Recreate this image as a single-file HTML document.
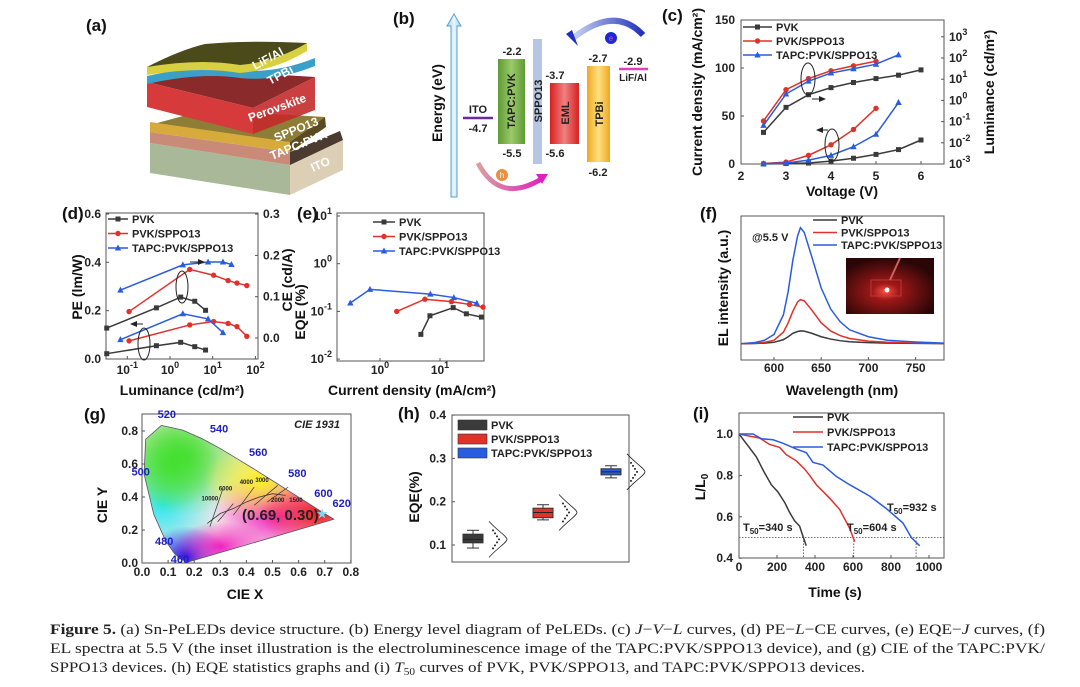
<!DOCTYPE html>
<html><head><meta charset="utf-8"><style>
html,body{margin:0;padding:0;background:#fff;width:1080px;height:687px;overflow:hidden}
svg{display:block;font-family:"Liberation Sans",Arial,sans-serif}
.t{font-weight:bold;font-size:12px;fill:#222}
.ax{font-weight:bold;font-size:14px;fill:#111}
.lg{font-weight:bold;font-size:11px;fill:#222}
.pl{font-weight:bold;font-size:17px;fill:#111}
.fr{fill:none;stroke:#555;stroke-width:1}
</style></head><body>
<svg id="fig" width="1080" height="687" viewBox="0 0 1080 687">
<defs>
<linearGradient id="gTapc" x1="0" x2="1"><stop offset="0" stop-color="#5f9a35"/><stop offset=".5" stop-color="#9acb68"/><stop offset="1" stop-color="#5f9a35"/></linearGradient>
<linearGradient id="gEml" x1="0" x2="1"><stop offset="0" stop-color="#d82020"/><stop offset=".5" stop-color="#f08080"/><stop offset="1" stop-color="#d82020"/></linearGradient>
<linearGradient id="gTpbi" x1="0" x2="1"><stop offset="0" stop-color="#f0a820"/><stop offset=".5" stop-color="#fde080"/><stop offset="1" stop-color="#f0a820"/></linearGradient>
<linearGradient id="gArr" x1="0" x2="1"><stop offset="0" stop-color="#9fd3ee"/><stop offset=".5" stop-color="#e8f6fd"/><stop offset="1" stop-color="#9fd3ee"/></linearGradient>
<linearGradient id="gE" x1="1" x2="0"><stop offset="0" stop-color="#2030c0"/><stop offset="1" stop-color="#c8d4f0"/></linearGradient>
<linearGradient id="gH" x1="0" x2="1"><stop offset="0" stop-color="#d9a0a0"/><stop offset="1" stop-color="#e020c0"/></linearGradient>
<radialGradient id="rg1" cx=".5" cy=".5" r=".5"><stop offset="0" stop-color="#44e030"/><stop offset="1" stop-color="#44e030" stop-opacity="0"/></radialGradient>
<radialGradient id="rg2" cx=".5" cy=".5" r=".5"><stop offset="0" stop-color="#30e8f0"/><stop offset="1" stop-color="#30e8f0" stop-opacity="0"/></radialGradient>
<radialGradient id="rg3" cx=".5" cy=".5" r=".5"><stop offset="0" stop-color="#2010e0"/><stop offset="1" stop-color="#2010e0" stop-opacity="0"/></radialGradient>
<radialGradient id="rg4" cx=".5" cy=".5" r=".5"><stop offset="0" stop-color="#f01818"/><stop offset="1" stop-color="#f01818" stop-opacity="0"/></radialGradient>
<radialGradient id="rg5" cx=".5" cy=".5" r=".5"><stop offset="0" stop-color="#f8f020"/><stop offset="1" stop-color="#f8f020" stop-opacity="0"/></radialGradient>
<radialGradient id="rg6" cx=".5" cy=".5" r=".5"><stop offset="0" stop-color="#f020c0"/><stop offset="1" stop-color="#f020c0" stop-opacity="0"/></radialGradient>
<radialGradient id="photo" cx=".45" cy=".6" r=".6"><stop offset="0" stop-color="#ff5040"/><stop offset=".25" stop-color="#a01818"/><stop offset="1" stop-color="#2a0606"/></radialGradient>
<clipPath id="cieClip"><polygon id="cieClipPoly" points=""/></clipPath>
</defs>

<!-- (a) device structure -->
<g>
<text class="pl" x="86" y="31">(a)</text>
<polygon points="150,143 290,165 290,195 150,173" fill="#a9b898"/>
<polygon points="290,165 343,140 343,170 290,195" fill="#dccfb5"/>
<polygon points="150,132 290,152 290,165 150,143" fill="#c98a78"/>
<polygon points="290,152 340,131 343,140 290,165" fill="#4a3a30"/>
<polygon points="150,125 205,110 325,117 290,142 150,132" fill="#8d7d36"/>
<polygon points="150,122 290,142 290,152 150,132" fill="#d7aa3c"/>
<polygon points="290,142 325,117 326,127 290,152" fill="#5a4a20"/>
<polygon points="147,82 200,70 315,77 253,108" fill="#8a2a2a"/>
<polygon points="147,82 253,108 253,134 147,107" fill="#d73a3a"/>
<polygon points="253,108 315,77 315,110 253,134" fill="#c42a2a" opacity=".9"/>
<path d="M147,76 Q200,64 240,70 Q275,74 315,58 L315,66 Q275,82 240,78 Q200,72 147,84Z" fill="#3aa0c8"/>
<path d="M147,67 Q180,50 205,44 Q250,40 307,43 L307,50 Q275,64 240,68 Q200,62 147,74Z" fill="#4a4a1a"/>
<path d="M147,67 Q200,58 240,65 Q275,62 307,43 L307,51 Q275,70 240,73 Q200,66 147,75Z" fill="#d8d040"/>
<g fill="#fff" font-weight="bold" font-size="12">
<text transform="translate(255,70) rotate(-28)">LiF/Al</text>
<text transform="translate(270,85) rotate(-28)">TPBi</text>
<text transform="translate(250,122) rotate(-20)">Perovskite</text>
<text transform="translate(276,142) rotate(-22)">SPPO13</text>
<text transform="translate(272,160) rotate(-22)">TAPC:PVK</text>
<text transform="translate(313,172) rotate(-24)">ITO</text>
</g>
</g>

<!-- (b) energy diagram -->
<g>
<text class="pl" x="393" y="24">(b)</text>
<polygon points="451,197 451,26 447,26 454,14 461,26 457,26 457,197" fill="url(#gArr)" stroke="#5aa0c8" stroke-width="1"/>
<text class="ax" transform="translate(442,103) rotate(-90)" text-anchor="middle">Energy (eV)</text>
<line x1="463" y1="118" x2="493" y2="118" stroke="#6a2aa0" stroke-width="2.5"/>
<g font-weight="bold" font-size="11" fill="#222" text-anchor="middle">
<text x="478" y="113">ITO</text><text x="478" y="132">-4.7</text>
<text x="512" y="55">-2.2</text><text x="512" y="157">-5.5</text>
<text x="555" y="79">-3.7</text><text x="555" y="157">-5.6</text>
<text x="598" y="62">-2.7</text><text x="598" y="176">-6.2</text>
<text x="633" y="65">-2.9</text><text x="633" y="81" font-size="10">LiF/Al</text>
</g>
<rect x="498" y="59" width="27" height="85" fill="url(#gTapc)"/>
<rect x="533" y="39" width="9" height="125" fill="#b8c6e6"/>
<rect x="550" y="83" width="29" height="61" fill="url(#gEml)"/>
<rect x="587" y="66" width="23" height="96" fill="url(#gTpbi)"/>
<line x1="619" y1="69" x2="648" y2="69" stroke="#e040c0" stroke-width="2.5"/>
<g font-weight="bold" font-size="11" fill="#222">
<text transform="translate(515,101) rotate(-90)" text-anchor="middle">TAPC:PVK</text>
<text transform="translate(542,101) rotate(-90)" text-anchor="middle">SPPO13</text>
<text transform="translate(569,113) rotate(-90)" text-anchor="middle">EML</text>
<text transform="translate(603,114) rotate(-90)" text-anchor="middle">TPBi</text>
</g>
<path d="M643,35 Q615,5 573,38" fill="none" stroke="url(#gE)" stroke-width="6"/>
<polygon points="566,34 578,46 572,30" fill="#2030c0"/>
<circle cx="611" cy="38" r="6" fill="#1a2ad0"/><text x="611" y="41" font-size="8" fill="#e040e0" text-anchor="middle">e</text>
<path d="M478,163 Q500,205 543,178" fill="none" stroke="url(#gH)" stroke-width="5"/>
<polygon points="548,174 536,174 542,184" fill="#e020c0"/>
<circle cx="502" cy="175" r="6" fill="#e89040"/><text x="502" y="178" font-size="8" fill="#fff" text-anchor="middle">h</text>
</g>

<g>
<text class="pl" x="662" y="21">(c)</text>
<text class="pl" x="62" y="219">(d)</text>
<text class="pl" x="297" y="219">(e)</text>
<text class="pl" x="700" y="219">(f)</text>
<text class="pl" x="84" y="420">(g)</text>
<text class="pl" x="398" y="419">(h)</text>
<text class="pl" x="693" y="419">(i)</text>
</g>
<g>
<text class="ax" transform="translate(702,92) rotate(-90)" text-anchor="middle">Current density (mA/cm²)</text>
<text class="ax" transform="translate(994,92) rotate(-90)" text-anchor="middle">Luminance (cd/m²)</text>
<text class="ax" x="842" y="196" text-anchor="middle">Voltage (V)</text>
<text class="ax" transform="translate(82,287) rotate(-90)" text-anchor="middle">PE (lm/W)</text>
<text class="ax" transform="translate(292,280) rotate(-90)" text-anchor="middle">CE (cd/A)</text>
<text class="ax" transform="translate(305,312) rotate(-90)" text-anchor="middle">EQE (%)</text>
<text class="ax" x="182" y="395" text-anchor="middle">Luminance (cd/m²)</text>
<text class="ax" x="412" y="395" text-anchor="middle">Current density (mA/cm²)</text>
<text class="ax" transform="translate(728,288) rotate(-90)" text-anchor="middle">EL intensity (a.u.)</text>
<text class="ax" x="842" y="395" text-anchor="middle" font-size="15">Wavelength (nm)</text>
<text class="ax" transform="translate(107,505) rotate(-90)" text-anchor="middle">CIE Y</text>
<text class="ax" x="245" y="599" text-anchor="middle">CIE X</text>
<text class="ax" transform="translate(419,497) rotate(-90)" text-anchor="middle">EQE(%)</text>
<text class="ax" transform="translate(705,487) rotate(-90)" text-anchor="middle">L/L<tspan font-size="10" dy="3">0</tspan></text>
<text class="ax" x="835" y="597" text-anchor="middle">Time (s)</text>
</g>

<g id="charts"></g>

<g font-family="Liberation Serif,serif" font-size="15" fill="#222">
<text x="50" y="634" textLength="995" lengthAdjust="spacingAndGlyphs"><tspan font-weight="bold">Figure 5.</tspan> (a) Sn-PeLEDs device structure. (b) Energy level diagram of PeLEDs. (c) <tspan font-style="italic">J</tspan>−<tspan font-style="italic">V</tspan>−<tspan font-style="italic">L</tspan> curves, (d) PE−<tspan font-style="italic">L</tspan>−CE curves, (e) EQE−<tspan font-style="italic">J</tspan> curves, (f)</text>
<text x="50" y="653" textLength="995" lengthAdjust="spacingAndGlyphs">EL spectra at 5.5 V (the inset illustration is the electroluminescence image of the TAPC:PVK/SPPO13 device), and (g) CIE of the TAPC:PVK/</text>
<text x="50" y="672" textLength="815" lengthAdjust="spacingAndGlyphs">SPPO13 devices. (h) EQE statistics graphs and (i) <tspan font-style="italic">T</tspan><tspan font-size="10" dy="3">50</tspan><tspan dy="-3"> curves of PVK, PVK/SPPO13, and TAPC:PVK/SPPO13 devices.</tspan></text>
</g>
</svg>
<script>
// ---------- data (c) ----------
const cVolt=[2.5,3,3.5,4,4.5,5,5.5,6];
const cJ_PVK=[0,0.5,1,3,6,10,15,25];
const cJ_SPPO=[0.5,2,9,20,36,58];
const cJ_TAPC=[0.3,1,4,9,18,31,64];
const cL_PVK=[0.031,0.47,1.86,4,7,10.7,15.5,27.5];
const cL_SPPO=[0.107,3.2,10.7,25,43,71];
const cL_TAPC=[0.066,2.0,8.1,19.5,31,51,141];
const cXTicks=[2,3,4,5,6];
const cYTicks=[0,50,100,150];
const cRTicks=[-3,-2,-1,0,1,2,3];
// ---------- data (d) ----------
const dL_PVK=[0.033,0.48,1.78,3.8,6.8];
const dPE_PVK=[0.022,0.055,0.069,0.051,0.037];
const dCE_PVK=[0.024,0.073,0.099,0.089,0.067];
const dL_SPPO=[0.11,2.9,10.5,22.9,37,63];
const dPE_SPPO=[0.075,0.141,0.155,0.147,0.134,0.094];
const dCE_SPPO=[0.064,0.166,0.152,0.139,0.133,0.127];
const dL_TAPC_PE=[0.069,2.0,7.8,17.4];
const dPE_TAPC=[0.080,0.187,0.166,0.109];
const dL_TAPC_CE=[0.069,2.0,7.8,17.4,27.5];
const dCE_TAPC=[0.116,0.177,0.184,0.184,0.178];
const dXTicks=[-1,0,1,2];
const dYTicks=[0,0.2,0.4,0.6];
const dRTicks=[0,0.1,0.2,0.3];
// ---------- data (e) ----------
const eJ_PVK=[4.8,6.8,16.6,27.5,49];
const eEQE_PVK=[0.033,0.081,0.12,0.089,0.076];
const eJ_SPPO=[1.9,5.6,15.5,31,52];
const eEQE_SPPO=[0.10,0.18,0.16,0.14,0.123];
const eJ_TAPC=[0.32,0.68,6.9,17,41];
const eEQE_TAPC=[0.15,0.29,0.23,0.195,0.148];
const eXTicks=[0,1];
const eYTicks=[-2,-1,0,1];
// ---------- data (f) ----------
const fWave=[565,580,590,600,610,615,620,625,628,632,640,650,660,670,680,700,720,750,780];
const fI_TAPC=[0,0.01,0.03,0.08,0.25,0.45,0.72,0.93,1.0,0.96,0.75,0.48,0.30,0.19,0.12,0.06,0.03,0.015,0.005];
const fI_SPPO=[0,0.004,0.012,0.03,0.1,0.18,0.28,0.36,0.38,0.37,0.29,0.18,0.11,0.07,0.045,0.022,0.012,0.006,0.002];
const fI_PVK=[0,0.002,0.005,0.012,0.035,0.06,0.09,0.105,0.11,0.108,0.09,0.06,0.04,0.026,0.017,0.009,0.005,0.003,0.001];
const fXTicks=[600,650,700,750];
// ---------- data (g) ----------
const gLocusX=[0.174,0.144,0.124,0.091,0.045,0.008,0.014,0.074,0.155,0.230,0.302,0.373,0.444,0.512,0.575,0.627,0.691,0.719,0.735];
const gLocusY=[0.005,0.030,0.058,0.133,0.295,0.538,0.750,0.834,0.806,0.754,0.692,0.624,0.555,0.487,0.424,0.372,0.308,0.281,0.265];
const gPoint=[0.69,0.30];
const gTicks=[0,0.1,0.2,0.3,0.4,0.5,0.6,0.7,0.8];
const gYTicks=[0,0.2,0.4,0.6,0.8];
const gWaveLabels=["520","540","560","580","600","620","500","480","460"];
const gWaveX=[0.06,0.26,0.41,0.56,0.66,0.73,-0.04,0.05,0.11];
const gWaveY=[0.88,0.79,0.65,0.52,0.40,0.34,0.53,0.11,0.00];
// ---------- data (h) ----------
const hCats=["PVK","PVK/SPPO13","TAPC:PVK/SPPO13"];
const hMin=[0.093,0.158,0.255];
const hQ1=[0.105,0.163,0.262];
const hMed=[0.113,0.175,0.269];
const hQ3=[0.125,0.185,0.276];
const hMax=[0.134,0.193,0.283];
const hYTicks=[0.1,0.2,0.3,0.4];
// ---------- data (i) ----------
const iT_PVK=[0,50,91,130,170,205,240,267,293,319,337,354];
const iL_PVK=[1.0,0.94,0.89,0.82,0.755,0.72,0.67,0.62,0.58,0.555,0.505,0.46];
const iT_SPPO=[0,109,160,214,249,302,346,372,407,477,530,582,609];
const iL_SPPO=[1,0.98,0.95,0.935,0.90,0.87,0.83,0.80,0.755,0.69,0.635,0.545,0.48];
const iT_TAPC=[0,74,118,179,232,302,354,389,442,512,582,688,775,863,907,951];
const iL_TAPC=[1,1,0.977,0.972,0.955,0.927,0.91,0.863,0.85,0.795,0.755,0.70,0.64,0.57,0.50,0.46];
const iT50=[340,604,932];
const iXTicks=[0,200,400,600,800,1000];
const iYTicks=[0.4,0.6,0.8,1.0];

const NS="http://www.w3.org/2000/svg";
const root=document.getElementById('charts');
const K="#3a3a3a",R="#e0312a",B="#2a5ce0";
const lg=Math.log10;
function el(tag,attrs,parent){const e=document.createElementNS(NS,tag);for(const k in attrs)e.setAttribute(k,attrs[k]);(parent||root).appendChild(e);return e;}
function grp(name){const g=el('g',{});return g;}
function txt(p,x,y,s,cls,anchor){const t=el('text',{x:x,y:y,class:cls||'t','text-anchor':anchor||'middle'},p);t.textContent=s;return t;}
function powLabel(p,x,y,e,anchor){const t=el('text',{x:x,y:y,class:'t','text-anchor':anchor||'middle'},p);t.textContent='10';const s=el('tspan',{dy:-6,'font-size':9},t);s.textContent=String(e);return t;}
function series(p,xs,ys,fx,fy,color,marker,name){
  const g=el('g',{},p);
  el('polyline',{points:xs.map((x,i)=>fx(x)+','+fy(ys[i])).join(' '),fill:'none',stroke:color,'stroke-width':1.5},g);
  if(marker) xs.forEach((x,i)=>mark(g,fx(x),fy(ys[i]),color,marker));
  return g;
}
function mark(g,x,y,c,m){
  if(m==='s')el('rect',{x:x-2.5,y:y-2.5,width:5,height:5,fill:c},g);
  else if(m==='c')el('circle',{cx:x,cy:y,r:2.7,fill:c},g);
  else el('polygon',{points:`${x},${y-3.5} ${x-3.2},${y+2.5} ${x+3.2},${y+2.5}`,fill:c},g);
}
function legend(p,x,y,dy,items,len,marks){
  items.forEach((it,i)=>{const g=el('g',{},p);
    el('line',{x1:x,y1:y+i*dy,x2:x+len,y2:y+i*dy,stroke:it[1],'stroke-width':1.5},g);
    if(marks)mark(g,x+len/2,y+i*dy,it[1],it[2]);
    txt(g,x+len+4,y+i*dy+4,it[0],'lg','start');});
}
function frame(p,x1,y1,x2,y2){el('rect',{x:x1,y:y1,width:x2-x1,height:y2-y1,class:'fr'},p);}
function tickX(p,x,y){el('line',{x1:x,y1:y,x2:x,y2:y-3,stroke:'#555'},p);}
function tickY(p,x,y,d){el('line',{x1:x,y1:y,x2:x+d,y2:y,stroke:'#555'},p);}
const LEG=[["PVK",K,'s'],["PVK/SPPO13",R,'c'],["TAPC:PVK/SPPO13",B,'t']];

// ---------- panel c ----------
(function(){
 const g=grp('panel-c-jvl-chart');
 const X=v=>741+(v-2)*45, YJ=j=>164-j*0.96, YL=l=>164-(lg(l)+3)*21.2;
 frame(g,741,20,944,164);
 cXTicks.forEach(v=>{tickX(g,X(v),164);txt(g,X(v),180,String(v));});
 cYTicks.forEach(v=>{tickY(g,741,YJ(v),3);txt(g,735,YJ(v)+4,String(v),'t','end');});
 cRTicks.forEach(e=>{tickY(g,944,164-(e+3)*21.2,-3);powLabel(g,949,164-(e+3)*21.2+4,e,'start');});
 series(g,cVolt,cJ_PVK,X,YJ,K,'s','j-pvk');
 series(g,cVolt.slice(0,cJ_SPPO.length),cJ_SPPO,X,YJ,R,'c','j-pvk-sppo13');
 series(g,cVolt.slice(0,cJ_TAPC.length),cJ_TAPC,X,YJ,B,'t','j-tapc');
 series(g,cVolt,cL_PVK,X,YL,K,'s','l-pvk');
 series(g,cVolt.slice(0,cL_SPPO.length),cL_SPPO,X,YL,R,'c','l-pvk-sppo13');
 series(g,cVolt.slice(0,cL_TAPC.length),cL_TAPC,X,YL,B,'t','l-tapc');
 el('ellipse',{cx:808,cy:79,rx:7,ry:16,fill:'none',stroke:'#222'},g);
 el('line',{x1:812,y1:99,x2:822,y2:99,stroke:'#222'},g);el('polygon',{points:'826,99 819,96 819,102',fill:'#222'},g);
 el('ellipse',{cx:832,cy:145,rx:7,ry:16,fill:'none',stroke:'#222'},g);
 el('line',{x1:820,y1:130,x2:828,y2:130,stroke:'#222'},g);el('polygon',{points:'816,130 823,127 823,133',fill:'#222'},g);
 legend(g,743,27,14,LEG,29,true);
})();

// ---------- panel d ----------
(function(){
 const g=grp('panel-d-pe-l-ce-chart');
 const X=l=>170+lg(l)*42.7, YP=p=>359-p/0.6*145, YC=c=>338-c*413;
 frame(g,106,213,258,359);
 dXTicks.forEach(e=>{tickX(g,170+e*42.7,359);powLabel(g,170+e*42.7,374,e);});
 dYTicks.forEach(v=>{tickY(g,106,YP(v),3);txt(g,101,YP(v)+4,v.toFixed(1),'t','end');});
 dRTicks.forEach(v=>{tickY(g,258,YC(v),-3);txt(g,263,YC(v)+4,v.toFixed(1),'t','start');});
 series(g,dL_PVK,dPE_PVK,X,YP,K,'s','pe-pvk');
 series(g,dL_SPPO,dPE_SPPO,X,YP,R,'c','pe-pvk-sppo13');
 series(g,dL_TAPC_PE,dPE_TAPC,X,YP,B,'t','pe-tapc');
 series(g,dL_PVK,dCE_PVK,X,YC,K,'s','ce-pvk');
 series(g,dL_SPPO,dCE_SPPO,X,YC,R,'c','ce-pvk-sppo13');
 series(g,dL_TAPC_CE,dCE_TAPC,X,YC,B,'t','ce-tapc');
 el('ellipse',{cx:182,cy:287,rx:6,ry:16,fill:'none',stroke:'#222'},g);
 el('line',{x1:190,y1:262,x2:201,y2:262,stroke:'#222'},g);el('polygon',{points:'205,262 198,259 198,265',fill:'#222'},g);
 el('ellipse',{cx:144,cy:344,rx:6,ry:16,fill:'none',stroke:'#222'},g);
 el('line',{x1:134,y1:324,x2:143,y2:324,stroke:'#222'},g);el('polygon',{points:'130,324 137,321 137,327',fill:'#222'},g);
 legend(g,108,219,14.5,LEG,20,true);
})();

// ---------- panel e ----------
(function(){
 const g=grp('panel-e-eqe-j-chart');
 const X=j=>380+lg(j)*60, Y=e=>216+(1-lg(e))*47.7;
 frame(g,337,213,484,361);
 eXTicks.forEach(e=>{tickX(g,380+e*60,361);powLabel(g,380+e*60,374,e);});
 eYTicks.forEach(e=>{const y=216+(1-e)*47.7;tickY(g,337,y,3);powLabel(g,332,y+4,e,'end');});
 series(g,eJ_PVK,eEQE_PVK,X,Y,K,'s','eqe-pvk');
 series(g,eJ_SPPO,eEQE_SPPO,X,Y,R,'c','eqe-pvk-sppo13');
 series(g,eJ_TAPC,eEQE_TAPC,X,Y,B,'t','eqe-tapc');
 legend(g,373,222,14.5,LEG,22,true);
})();

// ---------- panel f ----------
(function(){
 const g=grp('panel-f-el-spectra-chart');
 const X=w=>774+(w-600)*0.944, Y=i=>343.7-i*116;
 frame(g,741,216,944,360);
 fXTicks.forEach(v=>{tickX(g,X(v),360);txt(g,X(v),372,String(v));});
 series(g,fWave,fI_PVK,X,Y,K,null,'el-pvk');
 series(g,fWave,fI_SPPO,X,Y,R,null,'el-pvk-sppo13');
 series(g,fWave,fI_TAPC,X,Y,B,null,'el-tapc');
 legend(g,813,220,12.5,LEG,24,false);
 txt(g,752,241,'@5.5 V','lg','start');
 const ph=grp('inset-photo');el('rect',{x:846,y:258,width:88,height:56,fill:'url(#photo)'},ph);
 el('circle',{cx:887,cy:290,r:2.5,fill:'#fff'},ph);
 el('rect',{x:871,y:280,width:30,height:16,fill:'none',stroke:'#c84040','stroke-width':.8},ph);
 el('line',{x1:900,y1:258,x2:890,y2:280,stroke:'#d06060','stroke-width':2},ph);
})();

// ---------- panel g ----------
(function(){
 const g=grp('panel-g-cie-chart');
 const X=x=>142+x*261, Y=y=>563-y*165;
 const pts=gLocusX.map((x,i)=>X(x)+','+Y(gLocusY[i])).join(' ');
 document.getElementById('cieClipPoly').setAttribute('points',pts);
 const c=el('g',{'clip-path':'url(#cieClip)'},g);
 el('rect',{x:140,y:420,width:210,height:145,fill:'#f8e8e8'},c);
 el('ellipse',{cx:X(0.5),cy:Y(0.3),rx:60,ry:45,fill:'url(#rg6)'},c);
 el('ellipse',{cx:X(0.08),cy:Y(0.35),rx:60,ry:60,fill:'url(#rg2)'},c);
 el('ellipse',{cx:X(0.15),cy:Y(0.65),rx:75,ry:60,fill:'url(#rg1)'},c);
 el('ellipse',{cx:X(0.12),cy:Y(0.6),rx:45,ry:45,fill:'url(#rg1)'},c);
 el('ellipse',{cx:X(0.45),cy:Y(0.5),rx:55,ry:40,fill:'url(#rg5)'},c);
 el('ellipse',{cx:X(0.68),cy:Y(0.3),rx:60,ry:35,fill:'url(#rg4)'},c);
 el('ellipse',{cx:X(0.17),cy:Y(0.04),rx:40,ry:30,fill:'url(#rg3)'},c);
 el('ellipse',{cx:X(0.3),cy:Y(0.1),rx:45,ry:25,fill:'url(#rg6)'},c);
 el('polygon',{points:pts,fill:'none',stroke:'#556','stroke-width':.8},g);
 frame(g,142,414,351,563);
 gTicks.forEach(v=>{tickX(g,X(v),563);txt(g,X(v),576,v.toFixed(1),'t');});
 gYTicks.forEach(v=>{tickY(g,142,Y(v),3);txt(g,138,Y(v)+4,v.toFixed(1),'t','end');});
 gWaveLabels.forEach((s,i)=>{const t=txt(g,X(gWaveX[i]),Y(gWaveY[i]),s,'lg','start');t.style.fill='#2020c0';});
 el('polyline',{points:[[0.25,0.24],[0.3,0.3],[0.35,0.33],[0.4,0.37],[0.45,0.4],[0.5,0.42],[0.55,0.41]].map(p=>X(p[0])+','+Y(p[1])).join(' '),fill:'none',stroke:'#333','stroke-width':.8},g);
 [[0.28,0.27,0.31,0.45],[0.31,0.30,0.35,0.36],[0.37,0.34,0.43,0.46],[0.45,0.40,0.52,0.47],[0.50,0.42,0.56,0.46]].forEach(l=>el('line',{x1:X(l[0]-0.02),y1:Y(l[1]-0.05),x2:X(l[2]),y2:Y(l[3]),stroke:'#333','stroke-width':.7},g));
 [["10000",0.26,0.38],["6000",0.32,0.44],["4000",0.40,0.48],["3000",0.46,0.49],["2000",0.52,0.37],["1500",0.59,0.37]].forEach(a=>{const t=txt(g,X(a[1]),Y(a[2]),a[0],'t','middle');t.setAttribute('font-size','6');t.style.fontSize='6px';});
 const pt=txt(g,X(0.53),Y(0.26),'(0.69, 0.30)','t','middle');pt.style.fontSize='15px';
 const st=el('text',{x:X(gPoint[0]),y:Y(gPoint[1])+5,'text-anchor':'middle','font-size':'14',fill:'#6fe0f0'},g);st.textContent='★';
 
 
 const ct=txt(g,340,428,'CIE 1931','lg','end');ct.setAttribute('font-style','italic');
})();

// ---------- panel h ----------
(function(){
 const g=grp('panel-h-eqe-box-chart');
 const Y=v=>545-(v-0.1)*433, cx=[473,543,611], cols=[K,R,B];
 frame(g,452,415,629,562);
 hYTicks.forEach(v=>{tickY(g,452,Y(v),3);txt(g,446,Y(v)+4,v.toFixed(1),'t','end');});
 hCats.forEach((c,i)=>{const b=el('g',{},g);
  const x=cx[i];
  el('line',{x1:x,y1:Y(hMin[i]),x2:x,y2:Y(hMax[i]),stroke:'#333'},b);
  el('line',{x1:x-6,y1:Y(hMin[i]),x2:x+6,y2:Y(hMin[i]),stroke:'#333'},b);
  el('line',{x1:x-6,y1:Y(hMax[i]),x2:x+6,y2:Y(hMax[i]),stroke:'#333'},b);
  el('rect',{x:x-10,y:Y(hQ3[i]),width:20,height:Y(hQ1[i])-Y(hQ3[i]),fill:cols[i],stroke:'#333'},b);
  el('line',{x1:x-10,y1:Y(hMed[i]),x2:x+10,y2:Y(hMed[i]),stroke:'#222'},b);
  const ym=Y(hMed[i]),h=18;
  el('path',{d:`M${x+16},${ym-h} C${x+24},${ym-h/2} ${x+34},${ym-3} ${x+34},${ym} C${x+34},${ym+3} ${x+24},${ym+h/2} ${x+16},${ym+h}`,fill:'none',stroke:'#222','stroke-width':.8},b);
  for(let k=-3;k<=3;k++)el('circle',{cx:x+20+(3-Math.abs(k))*2,cy:ym+k*3,r:1,fill:'#222'},b);
 });
 hCats.forEach((c,i)=>{const e=el('g',{},g);
  el('rect',{x:458,y:420+i*14,width:29,height:10,fill:cols[i],stroke:'#333','stroke-width':.6},e);txt(e,491,429+i*14,c,'lg','start');});
})();

// ---------- panel i ----------
(function(){
 const g=grp('panel-i-t50-chart');
 const X=t=>739+t*0.19, Y=l=>434+(1-l)*207;
 frame(g,739,413,944,558);
 iXTicks.forEach(v=>{tickX(g,X(v),558);txt(g,X(v),571,String(v));});
 iYTicks.forEach(v=>{tickY(g,739,Y(v),3);txt(g,733,Y(v)+4,v.toFixed(1),'t','end');});
 el('line',{x1:739,y1:Y(0.5),x2:944,y2:Y(0.5),stroke:'#444','stroke-dasharray':'1.5,1.5','stroke-width':.8},g);
 iT50.forEach(t=>el('line',{x1:X(t),y1:Y(0.5),x2:X(t),y2:558,stroke:'#444','stroke-dasharray':'1.5,1.5','stroke-width':.8},g));
 series(g,iT_PVK,iL_PVK,X,Y,K,null,'decay-pvk');
 series(g,iT_SPPO,iL_SPPO,X,Y,R,null,'decay-pvk-sppo13');
 series(g,iT_TAPC,iL_TAPC,X,Y,B,null,'decay-tapc');
 const lab=[[743,531],[847,531],[887,511]];
 iT50.forEach((t,i)=>{const tt=el('text',{x:lab[i][0],y:lab[i][1],class:'lg','text-anchor':'start'},g);tt.textContent='T';
  const s=el('tspan',{'font-size':8,dy:3},tt);s.textContent='50';const s2=el('tspan',{dy:-3},tt);s2.textContent='='+t+' s';});
 legend(g,793,417,15,LEG,30,false);
})();
</script>
</body></html>
